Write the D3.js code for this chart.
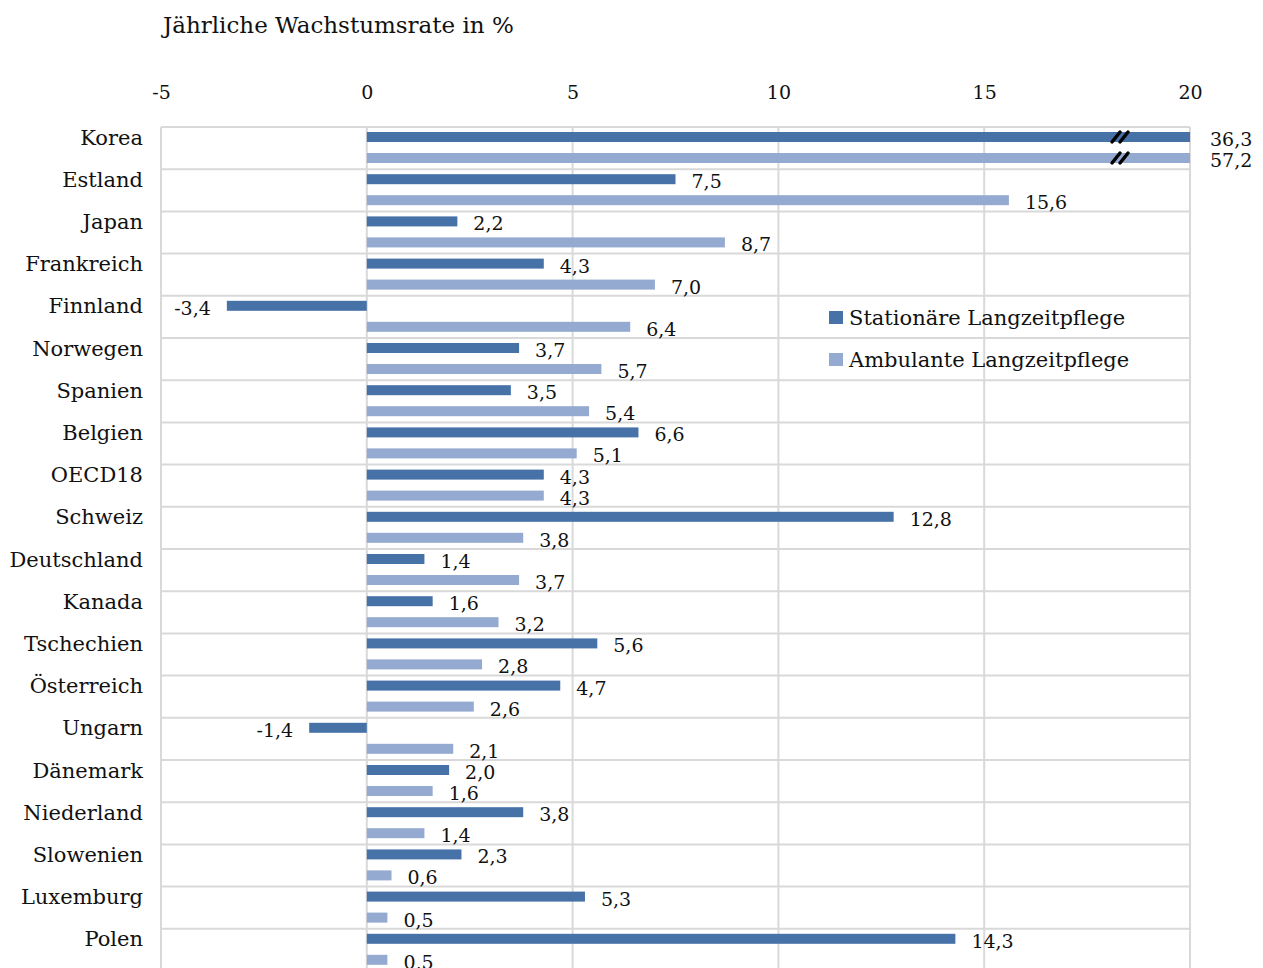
<!DOCTYPE html>
<html><head><meta charset="utf-8">
<script src="https://cdn.jsdelivr.net/npm/d3@7"></script>
<style>
body{margin:0;background:#fff;}
svg{display:block;}
text{font-family:"DejaVu Serif",serif;fill:#111;}
</style></head>
<body><svg id="c" width="1263" height="968"></svg>
<script>
const categories = ["Korea","Estland","Japan","Frankreich","Finnland","Norwegen","Spanien","Belgien","OECD18","Schweiz","Deutschland","Kanada","Tschechien","Österreich","Ungarn","Dänemark","Niederland","Slowenien","Luxemburg","Polen"];
const stationaer = [36.3,7.5,2.2,4.3,-3.4,3.7,3.5,6.6,4.3,12.8,1.4,1.6,5.6,4.7,-1.4,2.0,3.8,2.3,5.3,14.3];
const ambulant = [57.2,15.6,8.7,7.0,6.4,5.7,5.4,5.1,4.3,3.8,3.7,3.2,2.8,2.6,2.1,1.6,1.4,0.6,0.5,0.5];
const tickValues = [-5,0,5,10,15,20];
const seriesNames = ["Stationäre Langzeitpflege","Ambulante Langzeitpflege"];
const colors = ["#4672A8","#95AAD0"];

const svg = d3.select("#c");
const x = d3.scaleLinear().domain([-5,20]).range([161,1190]);
const y = d3.scaleBand().domain(categories).range([127,127+42.2*20]);
const fmt = v => d3.format(".1f")(v).replace(".",",").replace("\u2212","-");
const clampV = v => Math.min(v,20);

// title
svg.append("text").attr("x",163).attr("y",33).attr("font-size",23).text("Jährliche Wachstumsrate in %");

// vertical grid
svg.append("g").selectAll("line").data(tickValues).join("line")
  .attr("x1",d=>x(d)).attr("x2",d=>x(d)).attr("y1",127).attr("y2",968)
  .attr("stroke","#d9d9d9").attr("stroke-width",2);
// horizontal grid
svg.append("g").selectAll("line").data(categories).join("line")
  .attr("x1",161).attr("x2",1190).attr("y1",d=>y(d)).attr("y2",d=>y(d))
  .attr("stroke","#d9d9d9").attr("stroke-width",2);

// top axis labels
const ax = d3.axisTop(x).tickValues(tickValues).tickSize(0).tickPadding(0).tickFormat(d=>String(d));
const axg = svg.append("g").attr("transform","translate(0,99)").call(ax);
axg.select(".domain").remove();
axg.selectAll("text").attr("font-size",19).style("font-family","DejaVu Serif").attr("fill","#111");

// category labels
const ay = d3.axisLeft(y).tickSize(0).tickPadding(0);
const ayg = svg.append("g").attr("transform","translate(143,0)").call(ay);
ayg.select(".domain").remove();
ayg.selectAll("text").attr("font-size",21).style("font-family","DejaVu Serif").attr("fill","#111")
  .attr("dy",null).attr("y",-9).attr("dominant-baseline","middle");

const bh = 10;
const series = [stationaer, ambulant];
const offs = [5, 26];
series.forEach((vals,si)=>{
  const g = svg.append("g");
  g.selectAll("rect").data(categories).join("rect")
    .attr("x",(d,i)=>x(Math.min(0,vals[i])))
    .attr("width",(d,i)=>Math.abs(x(clampV(vals[i]))-x(0)))
    .attr("y",d=>y(d)+offs[si]).attr("height",bh).attr("fill",colors[si]);
  g.selectAll("text").data(categories).join("text")
    .attr("x",(d,i)=>vals[i]<0 ? x(vals[i])-16 : (vals[i]>20 ? x(20)+20 : x(vals[i])+16))
    .attr("text-anchor",(d,i)=>vals[i]<0?"end":"start")
    .attr("y",d=>y(d)+offs[si]+bh/2+4).attr("dominant-baseline","middle")
    .attr("font-size",19).text((d,i)=>fmt(vals[i]));
});

// break marks on Korea
const breakX = x(18.3);
[0,1].forEach(si=>{
  const cy = y("Korea")+offs[si]+bh/2;
  [-4,4].forEach(dx=>{
    svg.append("line").attr("x1",breakX+dx-4).attr("y1",cy+5).attr("x2",breakX+dx+4).attr("y2",cy-5)
      .attr("stroke","#000").attr("stroke-width",3.5).attr("stroke-linecap","round");
  });
});

// legend
const lg = svg.append("g");
seriesNames.forEach((n,i)=>{
  lg.append("rect").attr("x",829).attr("y",311+i*42).attr("width",14).attr("height",13).attr("fill",colors[i]);
  lg.append("text").attr("x",849).attr("y",319+i*42).attr("dominant-baseline","middle").attr("font-size",21).text(n);
});
</script></body></html>
